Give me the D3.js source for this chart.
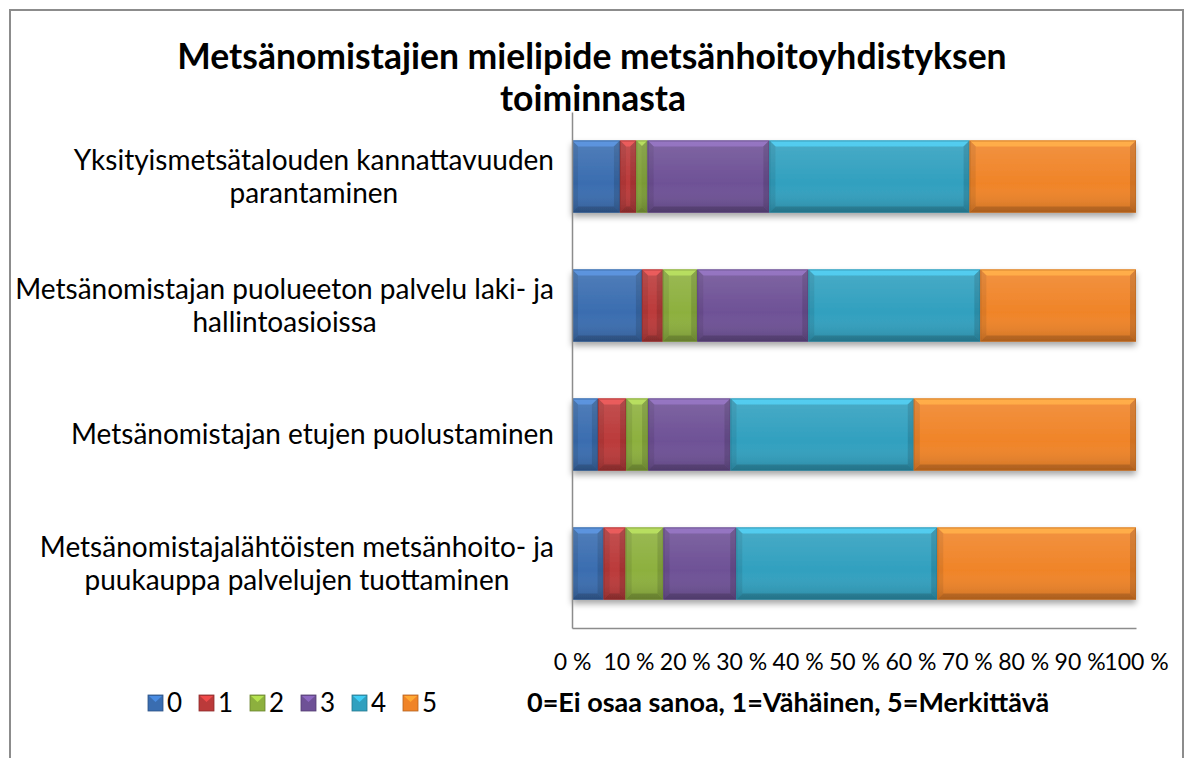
<!DOCTYPE html>
<html>
<head>
<meta charset="utf-8">
<script src="https://cdn.jsdelivr.net/npm/d3@7"></script>
<style>
  body { margin: 0; background: #fff; }
  text { font-family: Lato, "Open Sans", sans-serif; fill: #000; }
</style>
</head>
<body>
<div id="chart"></div>
<script>
var width = 1190, height = 758;

// data (share of answers per grade, %)
var categories = [
  "Yksityismetsätalouden kannattavuuden|parantaminen",
  "Metsänomistajan puolueeton palvelu laki- ja|hallintoasioissa",
  "Metsänomistajan etujen puolustaminen",
  "Metsänomistajalähtöisten metsänhoito- ja|puukauppa palvelujen tuottaminen"
];
var grades = ["0", "1", "2", "3", "4", "5"];
var grade0 = [8.5, 12.4, 4.6, 5.6];
var grade1 = [2.9, 3.7, 5.0, 3.9];
var grade2 = [2.0, 6.1, 3.9, 6.7];
var grade3 = [21.6, 19.7, 14.6, 12.9];
var grade4 = [35.5, 30.5, 32.5, 35.6];
var grade5 = [29.5, 27.6, 39.4, 35.2];
var ticks = [0, 10, 20, 30, 40, 50, 60, 70, 80, 90, 100];
var colors = ["#3a6db0", "#bb3a3a", "#8db03e", "#6e5196", "#31a0bf", "#f08428"];

var series = [grade0, grade1, grade2, grade3, grade4, grade5];
var rows = categories.map(function(c, i) {
  var r = {cat: c};
  grades.forEach(function(g, j) { r[g] = series[j][i]; });
  return r;
});

var stack = d3.stack().keys(grades).offset(d3.stackOffsetExpand);
var layers = stack(rows);

var svg = d3.select("#chart").append("svg")
    .attr("width", width)
    .attr("height", height);

var defs = svg.append("defs");
var shadow = defs.append("filter").attr("id", "shadow")
    .attr("x", "-5%").attr("y", "-20%").attr("width", "110%").attr("height", "160%");
shadow.append("feDropShadow")
    .attr("dx", 0).attr("dy", 4).attr("stdDeviation", 3)
    .attr("flood-color", "#000").attr("flood-opacity", 0.35);

var shade = defs.append("linearGradient").attr("id", "shade")
    .attr("x1", 0).attr("y1", 0).attr("x2", 0).attr("y2", 1);
shade.append("stop").attr("offset", "0%").attr("stop-color", "#fff").attr("stop-opacity", 0.12);
shade.append("stop").attr("offset", "60%").attr("stop-color", "#fff").attr("stop-opacity", 0);
shade.append("stop").attr("offset", "100%").attr("stop-color", "#000").attr("stop-opacity", 0.15);

// outer frame
svg.append("rect")
    .attr("x", 10).attr("y", 10)
    .attr("width", 1173).attr("height", 800)
    .attr("fill", "none")
    .attr("stroke", "#8c8c8c")
    .attr("stroke-width", 2);

var x = d3.scaleLinear().domain([0, 1]).range([572, 1136]);
var y = d3.scaleBand().domain(categories).range([112, 628]).paddingInner(0.442).paddingOuter(0.221);

// bars
var b = 6;
var barG = svg.append("g").attr("filter", "url(#shadow)");
layers.forEach(function(layer, j) {
  var g = barG.append("g");
  layer.forEach(function(d) {
    var x0 = x(d[0]), x1 = x(d[1]), y0 = y(d.data.cat), y1 = y0 + y.bandwidth();
    var c = d3.color(colors[j]);
    var seg = g.append("g");
    seg.append("rect")
        .attr("x", x0).attr("y", y0)
        .attr("width", x1 - x0).attr("height", y1 - y0)
        .attr("fill", c);
    // bevel edges
    seg.append("polygon")
        .attr("points", [[x0, y0], [x1, y0], [x1 - b, y0 + b], [x0 + b, y0 + b]].join(" "))
        .attr("fill", c.brighter(0.6));
    seg.append("polygon")
        .attr("points", [[x0, y1], [x1, y1], [x1 - b, y1 - b], [x0 + b, y1 - b]].join(" "))
        .attr("fill", c.darker(0.5));
    seg.append("polygon")
        .attr("points", [[x0, y0], [x0 + b, y0 + b], [x0 + b, y1 - b], [x0, y1]].join(" "))
        .attr("fill", c.darker(0.25));
    seg.append("polygon")
        .attr("points", [[x1, y0], [x1 - b, y0 + b], [x1 - b, y1 - b], [x1, y1]].join(" "))
        .attr("fill", c.darker(0.4));
    seg.append("rect")
        .attr("x", x0).attr("y", y0)
        .attr("width", x1 - x0).attr("height", y1 - y0)
        .attr("fill", "url(#shade)");
    seg.append("rect")
        .attr("x", x0 + 0.5).attr("y", y0 + 0.5)
        .attr("width", x1 - x0 - 1).attr("height", y1 - y0 - 1)
        .attr("fill", "none")
        .attr("stroke", c.darker(0.8))
        .attr("stroke-opacity", 0.5);
  });
});

// axes
var xAxis = svg.append("g")
    .attr("transform", "translate(0,628)")
    .call(d3.axisBottom(x).tickValues(ticks.map(function(t) { return t / 100; }))
      .tickSize(0).tickPadding(26)
      .tickFormat(function(d) { return Math.round(d * 100) + " %"; }));
xAxis.select(".domain").attr("stroke", "#8c8c8c").attr("stroke-width", 1.5);
xAxis.selectAll("text").style("font-size", "23px").style("font-family", "Lato").attr("fill", "#000");

var yAxis = svg.append("g")
    .attr("transform", "translate(572,0)")
    .call(d3.axisLeft(y).tickSize(0).tickFormat(""));
yAxis.select(".domain").attr("stroke", "#8c8c8c").attr("stroke-width", 1.5);

// title (drawn over the axis top like the original)
svg.append("text")
    .attr("x", 592).attr("y", 69)
    .attr("text-anchor", "middle")
    .style("font-size", "35.5px").style("font-weight", "bold")
    .text("Metsänomistajien mielipide metsänhoitoyhdistyksen");
svg.append("text")
    .attr("x", 593).attr("y", 111)
    .attr("text-anchor", "middle")
    .style("font-size", "35.5px").style("font-weight", "bold")
    .text("toiminnasta");

// category labels, wrapped lines centred as a block against the axis
categories.forEach(function(c) {
  var lines = c.split("|");
  var t = svg.append("text")
      .attr("text-anchor", "middle")
      .style("font-size", "28px");
  lines.forEach(function(l, i) {
    t.append("tspan").text(l);
  });
  var w = 0;
  t.selectAll("tspan").each(function() { w = Math.max(w, this.getComputedTextLength()); });
  var cx = 554 - w / 2;
  var cy = y(c) + y.bandwidth() / 2;
  var lh = 33;
  t.selectAll("tspan")
      .attr("x", cx)
      .attr("y", function(d, i) { return cy - (lines.length - 1) * lh / 2 + i * lh; })
      .attr("dy", "0.35em");
});

// legend
var legend = svg.append("g").attr("transform", "translate(148,703)");
grades.forEach(function(g, i) {
  var item = legend.append("g").attr("transform", "translate(" + (i * 51) + ",0)");
  var c = d3.color(colors[i]);
  item.append("rect")
      .attr("x", 0).attr("y", -8).attr("width", 15).attr("height", 16)
      .attr("fill", c).attr("stroke", c.darker(0.8)).attr("stroke-width", 0.8);
  item.append("polygon")
      .attr("points", [[1, -7], [14, -7], [7.5, -1]].join(" "))
      .attr("fill", c.brighter(0.7));
  item.append("text")
      .attr("x", 19).attr("y", 0).attr("dy", "0.35em")
      .style("font-size", "26px")
      .text(g);
});
svg.append("text")
    .attr("x", 527).attr("y", 703).attr("dy", "0.35em")
    .style("font-size", "27px").style("font-weight", "bold")
    .text("0=Ei osaa sanoa, 1=Vähäinen, 5=Merkittävä");
</script>
</body>
</html>
